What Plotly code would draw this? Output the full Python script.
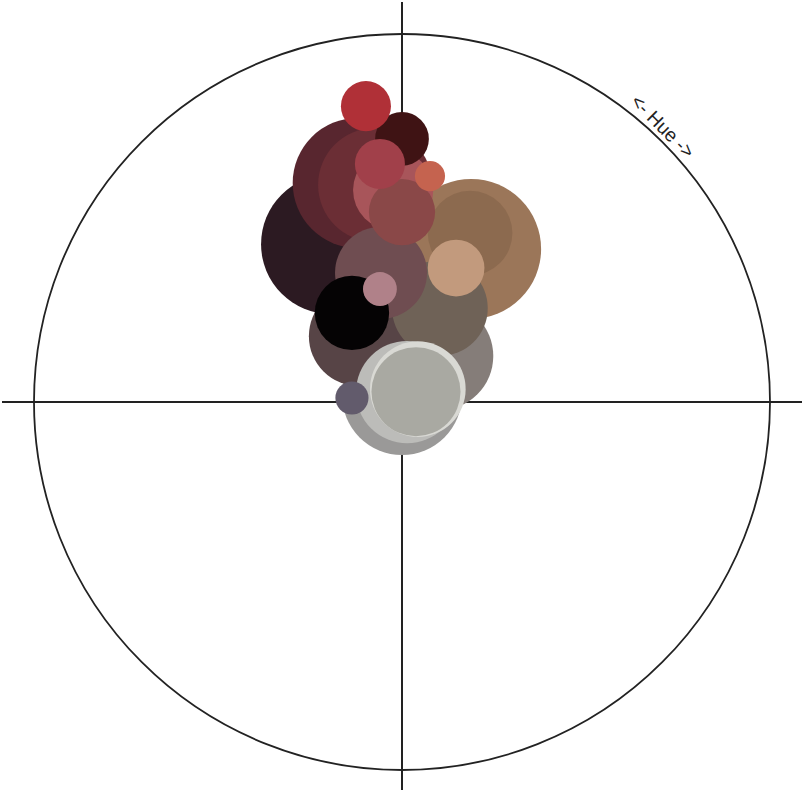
import plotly.graph_objects as go

# Bubble data in chart units (hue wheel of radius 1), drawn largest first
hue_x = [-0.193, -0.120, -0.073, 0.188, 0.101, 0.000, -0.117, 0.103, 0.014, 0.043,
         -0.057, 0.038, 0.185, -0.024, -0.136, 0.000, 0.147, 0.000, -0.098, -0.060,
         -0.060, -0.136, 0.076]
hue_y = [0.429, 0.595, 0.590, 0.416, 0.125, 0.019, 0.179, 0.255, 0.027, 0.035,
         0.351, 0.028, 0.459, 0.576, 0.242, 0.516, 0.364, 0.715, 0.804, 0.647,
         0.307, 0.011, 0.614]
weight = [0.190, 0.177, 0.155, 0.190, 0.147, 0.163, 0.136, 0.130, 0.139, 0.130,
          0.125, 0.121, 0.115, 0.109, 0.101, 0.090, 0.077, 0.073, 0.068, 0.068,
          0.046, 0.045, 0.041]
swatch = ["#2c1a22", "#58262f", "#6b2e35", "#9b7659", "#857d79", "#9a9998", "#574446",
          "#6f6257", "#bcbcb9", "#d9d9d4", "#6f4d51", "#a9a9a2", "#8c6a4f", "#a8555a",
          "#050304", "#8a4848", "#c29a7d", "#3f1314", "#b03037", "#a1404a", "#b08189",
          "#625b6c", "#c5634f"]
label = "<- Hue ->"

W, H = 802, 790
PX = 368.0                       # pixels per chart unit
cx, cy = 402.0, 402.0            # wheel centre in pixels
x_range = [-cx / PX, (W - cx) / PX]
y_range = [-(H - cy) / PX, cy / PX]

sizes = [2 * r * PX for r in weight]

fig = go.Figure()
fig.add_trace(go.Scatter(
    x=hue_x, y=hue_y, mode="markers",
    marker=dict(size=sizes, sizemode="diameter", color=swatch,
                line=dict(width=0), opacity=1),
    hoverinfo="skip", showlegend=False,
))

line_col = "#222222"
fig.add_shape(type="circle", xref="x", yref="y", x0=-1, y0=-1, x1=1, y1=1,
              line=dict(color=line_col, width=1.8), layer="below")
fig.add_shape(type="line", xref="paper", yref="y", x0=2 / W, x1=1, y0=0, y1=0,
              line=dict(color=line_col, width=2), layer="below")
fig.add_shape(type="line", xref="x", yref="paper", x0=0, x1=0, y0=0, y1=1 - 2 / H,
              line=dict(color=line_col, width=2), layer="below")

fig.add_annotation(x=(663 - cx) / PX, y=(cy - 126) / PX, xref="x", yref="y",
                   text=label, showarrow=False, textangle=45,
                   font=dict(family="Liberation Sans, Arial, sans-serif", size=19,
                             color=line_col))

fig.update_layout(
    width=W, height=H, margin=dict(l=0, r=0, t=0, b=0),
    paper_bgcolor="white", plot_bgcolor="white",
    xaxis=dict(range=x_range, visible=False, fixedrange=True),
    yaxis=dict(range=y_range, visible=False, fixedrange=True),
)

fig.write_html("out.html", config={"displayModeBar": False},
               post_script="document.body.style.margin='0';document.body.style.overflow='hidden';")
